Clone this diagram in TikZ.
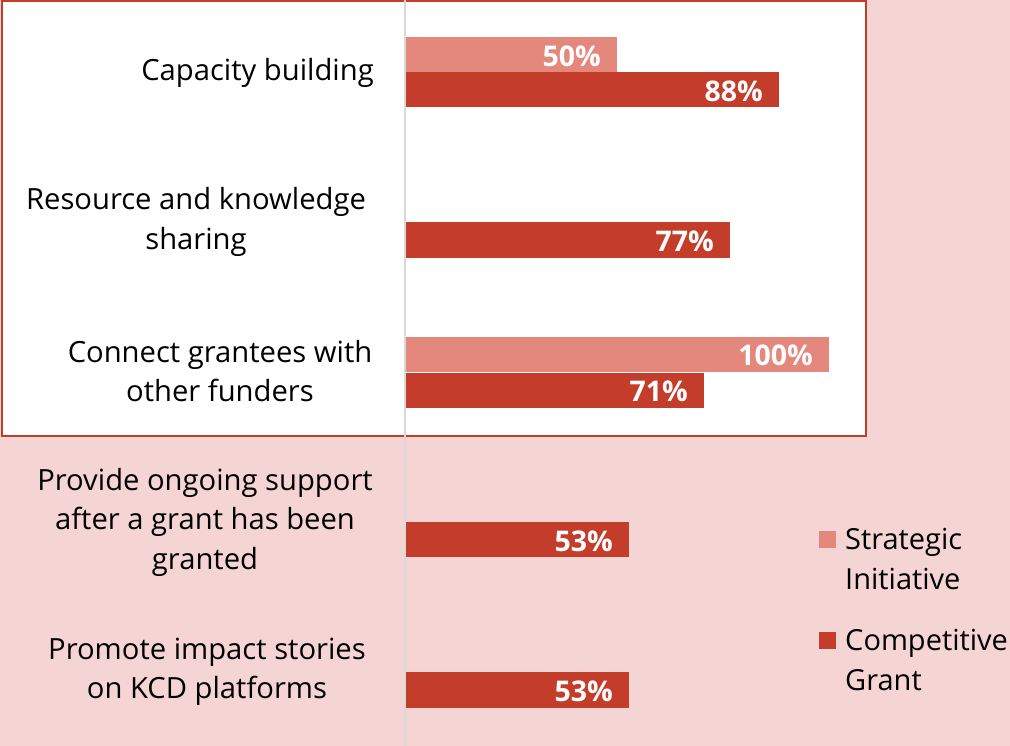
\documentclass[tikz,border=0pt]{standalone}
\usepackage{fontspec}
\setmainfont{Open Sans}
\definecolor{bgpink}{HTML}{F5D5D3}
\definecolor{lightbar}{HTML}{E4877C}
\definecolor{darkbar}{HTML}{C43C2A}
\definecolor{axisgray}{HTML}{D9D9D9}
\tikzset{
  cat/.style={align=center, font=\fontsize{29.2}{39.5}\selectfont, inner sep=0pt, text=black},
  val/.style={anchor=east, font=\fontsize{28.5}{32}\selectfont\bfseries, text=white, inner sep=0pt},
  lightb/.style={fill=lightbar, draw=none},
  darkb/.style={fill=darkbar, draw=none},
  leg/.style={anchor=west, align=left, font=\fontsize{29}{39.5}\selectfont, inner sep=0pt, text=black},
}
\begin{document}
\begin{tikzpicture}[x=1pt,y=-1pt]
\useasboundingbox (0,0) rectangle (1010,746);
\fill[bgpink] (0,0) rectangle (1010,746);
\draw[fill=white, draw=darkbar, line width=2.2pt] (2,1) rectangle (866,436);
\draw[axisgray, line width=2pt] (405,0) -- (405,746);
% bars
\fill[lightb] (406,37) rectangle (617,72);
\fill[darkb] (406,72) rectangle (779,107);
\fill[darkb] (406,222) rectangle (730,258);
\fill[lightb] (406,337) rectangle (829,372);
\fill[darkb] (406,373) rectangle (704,408);
\fill[darkb] (406,522) rectangle (629,557);
\fill[darkb] (406,672) rectangle (629,708);
% values
\node[val] (v1) at (601,56) {50\%};
\node[val] (v2) at (763,91) {88\%};
\node[val] (v3) at (714,241) {77\%};
\node[val] (v4) at (813,355) {100\%};
\node[val] (v5) at (688,391) {71\%};
\node[val] (v6) at (613,541) {53\%};
\node[val] (v7) at (613,691) {53\%};
% categories
\node[cat] (c1) at (257.5,73) {Capacity building};
\node[cat] (c2) at (196,222) {Resource and knowledge\\sharing};
\node[cat] (c3) at (220,371) {Connect grantees with\\other funders};
\node[cat] (c4) at (205,522) {Provide ongoing support\\after a grant has been\\granted};
\node[cat] (c5) at (207,672) {Promote impact stories\\on KCD platforms};
% legend
\fill[lightbar] (819,531) rectangle (836,548);
\fill[darkbar] (819,632) rectangle (836,649);
\node[leg] (l1) at (845,559) {Strategic\\Initiative};
\node[leg] (l2) at (845,660) {Competitive\\Grant};
\end{tikzpicture}
\end{document}
